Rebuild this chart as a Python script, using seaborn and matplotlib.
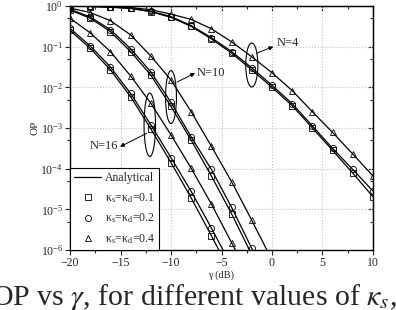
import matplotlib

matplotlib.use("Agg")
import matplotlib.pyplot as plt
import numpy as np
import pandas as pd
import seaborn as sns
from matplotlib.lines import Line2D
from matplotlib.patches import Ellipse
from matplotlib.ticker import LogLocator, MultipleLocator, NullFormatter

# SNR grid (dB), markers every 2 dB
gamma_db = [-20, -18, -16, -14, -12, -10, -8, -6, -4, -2, 0, 2, 4, 6, 8, 10]

# log10(OP)
n4_k01 = [-0.005, -0.012, -0.03, -0.06, -0.14, -0.28, -0.50, -0.81, -1.16, -1.57,
          -2.00, -2.45, -3.00, -3.55, -4.11, -4.69]
n4_k02 = [-0.004, -0.010, -0.025, -0.055, -0.13, -0.26, -0.48, -0.78, -1.12, -1.52,
          -1.95, -2.40, -2.95, -3.50, -4.02, -4.55]
n4_k04 = [-0.003, -0.007, -0.016, -0.04, -0.09, -0.20, -0.33, -0.56, -0.88, -1.25,
          -1.64, -2.08, -2.60, -3.11, -3.64, -4.18]

n10_k01 = [-0.10, -0.30, -0.63, -1.12, -1.70, -2.47, -3.30, -4.18, -5.11, -6.12, -7.05]
n10_k02 = [-0.08, -0.27, -0.58, -1.05, -1.62, -2.37, -3.22, -4.02, -4.95, -5.96, -6.90]
n10_k04 = [-0.05, -0.16, -0.36, -0.71, -1.23, -1.82, -2.60, -3.45, -4.32, -5.27, -6.25]

n16_k01 = [-0.60, -1.04, -1.57, -2.23, -3.02, -3.85, -4.72, -5.65, -6.60]
n16_k02 = [-0.55, -0.98, -1.50, -2.15, -2.92, -3.73, -4.56, -5.46, -6.40]
n16_k04 = [-0.30, -0.66, -1.12, -1.72, -2.39, -3.17, -3.99, -4.87, -5.82, -6.80]

kappas = ["0.1", "0.2", "0.4"]
kappa_markers = {"0.1": ("s", 4.0), "0.2": ("o", 4.4), "0.4": ("^", 4.8)}

series = {
    (4, "0.1"): n4_k01, (4, "0.2"): n4_k02, (4, "0.4"): n4_k04,
    (10, "0.1"): n10_k01, (10, "0.2"): n10_k02, (10, "0.4"): n10_k04,
    (16, "0.1"): n16_k01, (16, "0.2"): n16_k02, (16, "0.4"): n16_k04,
}

rows = []
for (n, kappa), vals in series.items():
    for g, v in zip(gamma_db, vals):
        rows.append({"gamma": g, "op": 10.0 ** v, "N": n, "kappa": kappa})
df = pd.DataFrame(rows)

sns.set_style("ticks")
plt.rcParams["font.family"] = ["Liberation Serif", "DejaVu Serif"]
plt.rcParams["mathtext.fontset"] = "stix"

fig = plt.figure(figsize=(3.96, 3.10), dpi=100)
ax = fig.add_axes([0.1768, 0.1935, 0.7651, 0.7871])
ax.set_yscale("log")

for (n, kappa), grp in df.groupby(["N", "kappa"]):
    marker, size = kappa_markers[kappa]
    sns.lineplot(data=grp, x="gamma", y="op", ax=ax, color="black", lw=0.9,
                 marker=marker, ms=size, mfc="none", mec="black", mew=0.6)

ax.set_xlim(-20, 10)
ax.set_ylim(1e-6, 1)
ax.grid(True, which="major", color="#c4c4c4", ls=":", lw=0.8)

ax.xaxis.set_major_locator(MultipleLocator(5))
ax.xaxis.set_minor_locator(MultipleLocator(2.5))
ax.yaxis.set_major_locator(LogLocator(base=10, numticks=10))
ax.yaxis.set_minor_locator(LogLocator(base=10, subs=[5], numticks=10))
ax.yaxis.set_minor_formatter(NullFormatter())
ax.tick_params(which="major", direction="out", length=3.5, width=0.8, pad=1.5,
               labelsize=8.5)
ax.tick_params(which="minor", direction="out", length=2, width=0.8)
for s in ax.spines.values():
    s.set_color("black")
    s.set_linewidth(1.0)

top = ax.secondary_xaxis("top")
top.xaxis.set_major_locator(MultipleLocator(5))
top.xaxis.set_minor_locator(MultipleLocator(2.5))
top.xaxis.set_major_formatter(NullFormatter())
top.tick_params(which="major", direction="in", length=3.5, width=0.8)
top.tick_params(which="minor", direction="in", length=2, width=0.8)

right = ax.secondary_yaxis("right")
right.yaxis.set_major_locator(LogLocator(base=10, numticks=10))
right.yaxis.set_minor_locator(LogLocator(base=10, subs=[5], numticks=10))
right.yaxis.set_major_formatter(NullFormatter())
right.yaxis.set_minor_formatter(NullFormatter())
right.tick_params(which="major", direction="in", length=3.5, width=0.8)
right.tick_params(which="minor", direction="in", length=2, width=0.8)

ax.set_xlabel("γ (dB)", fontsize=7.5, labelpad=1)
ax.set_ylabel("OP", fontsize=8, labelpad=1)

# group labels, ellipses and arrows
to_axes = ax.transData + ax.transAxes.inverted()
groups = [
    # label, ellipse centre (dB, OP), ellipse w/h (axes), text pos, ha, arrow tail, arrow head
    ("N=4", (-2.0, 10 ** -1.45), (0.040, 0.18), (0.5, 10 ** -0.91), "left",
     (-1.52, 10 ** -1.16), (0.13, 10 ** -1.0)),
    ("N=10", (-10.0, 10 ** -2.24), (0.036, 0.217), (-7.45, 10 ** -1.65), "left",
     (-9.4, 10 ** -1.87), (-7.62, 10 ** -1.65)),
    ("N=16", (-12.1, 10 ** -2.92), (0.038, 0.26), (-15.25, 10 ** -3.45), "right",
     (-12.4, 10 ** -3.13), (-15.05, 10 ** -3.46)),
]
for label, centre, (w, h), tpos, ha, tail, head in groups:
    cx, cy = to_axes.transform(centre)
    ax.add_patch(Ellipse((cx, cy), w, h, transform=ax.transAxes, fill=False,
                         ec="black", lw=0.8))
    ax.text(*tpos, label, ha=ha, va="center", fontsize=9)
    ax.annotate("", xy=head, xytext=tail,
                arrowprops=dict(arrowstyle="-|>", color="black", lw=0.7,
                                mutation_scale=6, shrinkA=0, shrinkB=0))

handles = [Line2D([], [], color="black", lw=0.9, label="Analytical")]
for kappa in kappas:
    marker, size = kappa_markers[kappa]
    handles.append(Line2D([], [], ls="", marker=marker, ms=size, mfc="none",
                          mec="black", mew=0.6,
                          label="κ$_\\mathregular{s}$=κ$_\\mathregular{d}$=" + kappa))
leg = ax.legend(handles=handles, loc="lower left", borderaxespad=0, fontsize=8.5,
                frameon=True, fancybox=False, edgecolor="black", framealpha=1,
                handlelength=2.3, handletextpad=0.3, labelspacing=0.6,
                borderpad=0.35)
leg.get_frame().set_linewidth(0.8)

fig.text(-0.022, 0.016, "OP vs $\\gamma$, for different values of $\\kappa_s$,",
         fontsize=21.5, ha="left", va="baseline")

fig.savefig("out.png", dpi=100)
